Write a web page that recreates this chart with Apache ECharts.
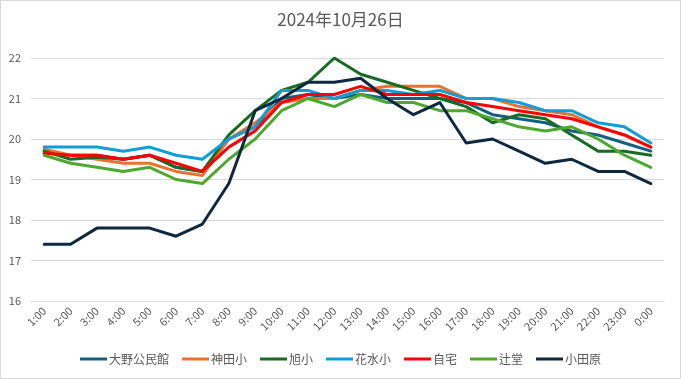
<!DOCTYPE html>
<html>
<head>
<meta charset="utf-8">
<script src="https://cdn.jsdelivr.net/npm/echarts@6/dist/echarts.min.js"></script>
<style>
html,body{margin:0;padding:0;background:#fff;}
#c{width:681px;height:379px;box-sizing:border-box;border:1px solid #d9d9d9;}
</style>
</head>
<body>
<div id="c"></div>
<script>
const title = '2024年10月26日';
const hours = ['1:00','2:00','3:00','4:00','5:00','6:00','7:00','8:00','9:00','10:00','11:00','12:00','13:00','14:00','15:00','16:00','17:00','18:00','19:00','20:00','21:00','22:00','23:00','0:00'];
const names = ['大野公民館','神田小','旭小','花水小','自宅','辻堂','小田原'];
const colors = ['#156082','#E97132','#196B24','#0F9ED5','#FF0000','#4EA72E','#0E2841'];
const oono    = [19.7,19.6,19.6,19.5,19.6,19.3,19.2,20.0,20.3,21.0,21.1,21.0,21.1,21.0,21.0,21.0,20.9,20.6,20.5,20.4,20.2,20.1,19.9,19.7];
const kanda   = [19.75,19.6,19.5,19.4,19.4,19.2,19.1,20.0,20.4,20.9,21.0,21.0,21.2,21.3,21.3,21.3,21.0,21.0,20.8,20.7,20.6,20.3,20.1,19.8];
const asahi   = [19.7,19.5,19.55,19.5,19.6,19.3,19.2,20.1,20.7,21.2,21.4,22.0,21.6,21.4,21.2,21.0,20.8,20.4,20.6,20.5,20.1,19.7,19.7,19.6];
const hanamizu= [19.8,19.8,19.8,19.7,19.8,19.6,19.5,20.0,20.3,21.2,21.2,21.0,21.2,21.2,21.1,21.2,21.0,21.0,20.9,20.7,20.7,20.4,20.3,19.9];
const jitaku  = [19.65,19.6,19.6,19.5,19.6,19.4,19.2,19.8,20.2,20.9,21.1,21.1,21.3,21.1,21.1,21.1,20.9,20.8,20.7,20.6,20.5,20.3,20.1,19.8];
const tsujido = [19.6,19.4,19.3,19.2,19.3,19.0,18.9,19.5,20.0,20.7,21.0,20.8,21.1,20.9,20.9,20.7,20.7,20.5,20.3,20.2,20.3,20.0,19.6,19.3];
const odawara = [17.4,17.4,17.8,17.8,17.8,17.6,17.9,18.9,20.7,21.0,21.4,21.4,21.5,21.0,20.6,20.9,19.9,20.0,19.7,19.4,19.5,19.2,19.2,18.9];
const seriesData = [oono,kanda,asahi,hanamizu,jitaku,tsujido,odawara];
const yTicks = {min:16,max:22,interval:1};

const font = '"Noto Sans CJK JP", "Noto Sans", sans-serif';
const chart = echarts.init(document.getElementById('c'));
chart.setOption({
  animation:false,
  color: colors,
  title:{text:title,left:'center',top:5,textStyle:{fontFamily:font,fontSize:17,fontWeight:'normal',color:'#595959'}},
  grid:{left:30,right:16,top:57,bottom:77},
  legend:{
    data:names,bottom:8,left:'center',icon:'rect',itemWidth:27,itemHeight:3,itemGap:13,
    textStyle:{fontFamily:font,fontSize:12,color:'#595959',padding:[0,0,0,-3]}
  },
  xAxis:{
    type:'category',data:hours,boundaryGap:true,
    axisLine:{show:true,lineStyle:{color:'#d9d9d9'}},axisTick:{show:false},
    axisLabel:{rotate:45,fontFamily:font,fontSize:11,color:'#595959',margin:8,interval:0}
  },
  yAxis:{
    type:'value',min:yTicks.min,max:yTicks.max,interval:yTicks.interval,
    axisLine:{show:false},axisTick:{show:false},
    axisLabel:{fontFamily:font,fontSize:11,color:'#595959',margin:10},
    splitLine:{lineStyle:{color:'#d9d9d9',width:1}}
  },
  series: names.map((n,i)=>({
    name:n,type:'line',data:seriesData[i],symbol:'none',
    lineStyle:{width:3,color:colors[i],cap:'round',join:'round'},itemStyle:{color:colors[i]}
  }))
});
</script>
</body>
</html>
